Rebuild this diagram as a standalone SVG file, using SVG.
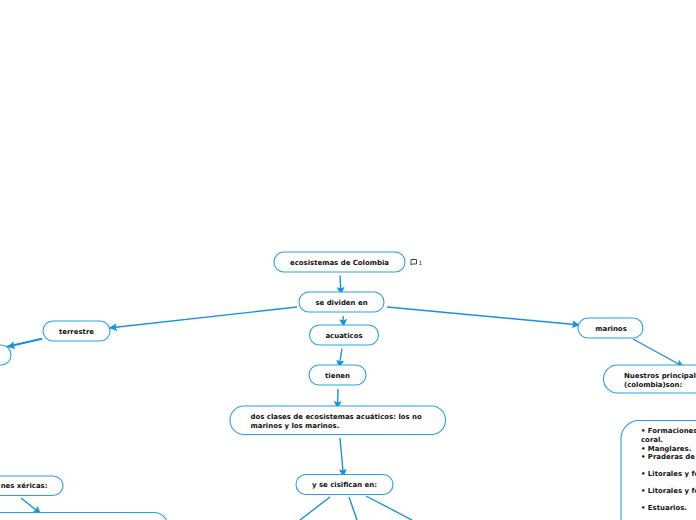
<svg xmlns="http://www.w3.org/2000/svg" width="696" height="520" viewBox="0 0 696 520">
<style>
.n{fill:#fff;stroke:#2a9fe2;stroke-width:1.1}
.t{font-family:"DejaVu Sans",Verdana,sans-serif;font-weight:700;font-size:6.95px;fill:#111}
.m{text-anchor:middle}
.c{fill:none;stroke:#1493e0;stroke-width:1.4}
</style>
<defs><marker id="a" markerWidth="9" markerHeight="8" refX="8" refY="4" orient="auto" markerUnits="userSpaceOnUse"><path d="M0 0L8 4L0 8L1.500 4Z" fill="#1493e0"/></marker></defs>
<g id="connectors">
<path class="c" marker-end="url(#a)" d="M340 275.500L341 295"/>
<path class="c" marker-end="url(#a)" d="M343 316L343.500 327"/>
<path class="c" marker-end="url(#a)" d="M342 348.500L339 368"/>
<path class="c" marker-end="url(#a)" d="M338 389L337.500 409"/>
<path class="c" marker-end="url(#a)" d="M340 438L343.500 477"/>
<path class="c" marker-end="url(#a)" d="M297 307L109 328"/>
<path class="c" marker-end="url(#a)" d="M387 307L580 325"/>
<path class="c" marker-end="url(#a)" d="M633 339L684 367"/>
<path class="c" marker-end="url(#a)" d="M42 339L7 347"/>
<path class="c" d="M42 338.500L7 346.500"/>
<path class="c" marker-end="url(#a)" d="M21 498L41 514"/>
<path class="c" d="M330 497L300 520"/>
<path class="c" d="M349 497L357 520"/>
<path class="c" d="M366 496L412 520"/>
</g>
<g id="n1"><rect class="n" x="274" y="252" width="131" height="20" rx="10"/><text class="t m" x="339.500" y="264.500">ecosistemas de Colombia</text></g>
<g id="comment"><path d="M411 259.500h5.500v4.500h-4l-1.500 1Z" fill="none" stroke="#333" stroke-width=".9"/><text x="418.500" y="265" font-family="DejaVu Sans,sans-serif" font-size="6" fill="#333">1</text></g>
<g id="n2"><rect class="n" x="299" y="292" width="85" height="20" rx="10"/><text class="t m" x="341.500" y="304.500">se dividen en</text></g>
<g id="n3"><rect class="n" x="309.500" y="325" width="69" height="20" rx="10"/><text class="t m" x="344" y="337.500">acuaticos</text></g>
<g id="n4"><rect class="n" x="309" y="365" width="57" height="20" rx="10"/><text class="t m" x="337.500" y="377.500">tienen</text></g>
<g id="n5"><rect class="n" x="230" y="406" width="215.500" height="28.500" rx="14"/><text class="t" x="250.500" y="419">dos clases de ecosistemas acuáticos: los no</text><text class="t" x="250.500" y="428">marinos y los marinos.</text></g>
<g id="n6"><rect class="n" x="296" y="474.500" width="97" height="20" rx="10"/><text class="t m" x="344.500" y="487">y se cisifican en:</text></g>
<g id="n7"><rect class="n" x="43" y="321" width="67" height="20" rx="10"/><text class="t m" x="76.500" y="333.500">terrestre</text></g>
<g id="n8"><rect class="n" x="-40" y="345" width="51" height="20" rx="10"/></g>
<g id="n9"><rect class="n" x="-40" y="476" width="103" height="19.500" rx="10"/><text class="t" x="47.500" y="488" text-anchor="end">nes xéricas:</text></g>
<g id="n10"><rect class="n" x="-60" y="512.500" width="228" height="40" rx="14"/></g>
<g id="n11"><rect class="n" x="578" y="318" width="65" height="20" rx="10"/><text class="t m" x="611" y="330.500">marinos</text></g>
<g id="n12"><rect class="n" x="603.500" y="365" width="140" height="28" rx="14"/><text class="t" x="624" y="378">Nuestros principales</text><text class="t" x="624" y="387">(colombia)son:</text></g>
<g id="n13"><rect class="n" x="621" y="420.500" width="140" height="130" rx="18"/><text class="t" x="641" y="433">• Formaciones de</text><text class="t" x="641" y="442">coral.</text><text class="t" x="641" y="450.500">• Manglares.</text><text class="t" x="641" y="459">• Praderas de</text><text class="t" x="641" y="476">• Litorales y fondos</text><text class="t" x="641" y="493">• Litorales y fondos</text><text class="t" x="641" y="510">• Estuarios.</text></g>
</svg>
